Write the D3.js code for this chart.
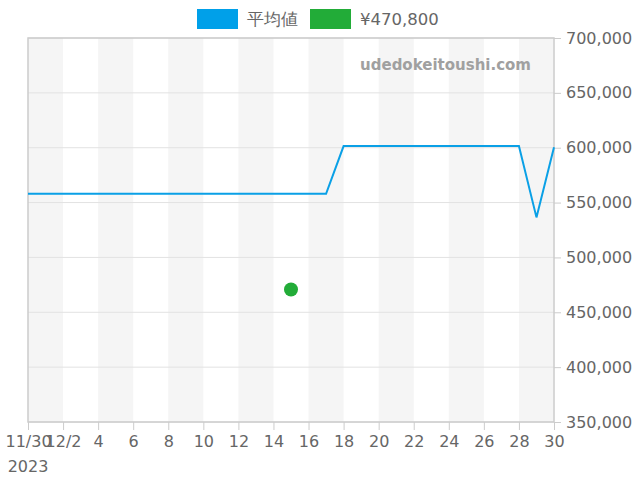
<!DOCTYPE html>
<html><head><meta charset="utf-8">
<script src="https://cdn.jsdelivr.net/npm/d3@7"></script>
<style>body{margin:0;background:#fff}svg{display:block}text{font-family:"DejaVu Sans",sans-serif}</style>
</head><body><svg id="c" width="640" height="480"></svg>
<script>
const dates = ["2023-11-30","2023-12-01","2023-12-02","2023-12-03","2023-12-04","2023-12-05","2023-12-06","2023-12-07","2023-12-08","2023-12-09","2023-12-10","2023-12-11","2023-12-12","2023-12-13","2023-12-14","2023-12-15","2023-12-16","2023-12-17","2023-12-18","2023-12-19","2023-12-20","2023-12-21","2023-12-22","2023-12-23","2023-12-24","2023-12-25","2023-12-26","2023-12-27","2023-12-28","2023-12-29","2023-12-30"];
const avgValues = [558000,558000,558000,558000,558000,558000,558000,558000,558000,558000,558000,558000,558000,558000,558000,558000,558000,558000,601500,601500,601500,601500,601500,601500,601500,601500,601500,601500,601500,536500,600500];
const pointDate = "2023-12-15";
const pointValue = 470800;
const yTicks = [350000,400000,450000,500000,550000,600000,650000,700000];
const xTickLabels = ["11/30","12/2","4","6","8","10","12","14","16","18","20","22","24","26","28","30"];
const legendLabels = ["平均値","¥470,800"];

const parse = d3.timeParse("%Y-%m-%d");
const svg = d3.select("#c");
const L=28,R=554,T=38,B=422;
const x = d3.scaleTime().domain([parse(dates[0]), parse(dates[dates.length-1])]).range([L,R]);
const y = d3.scaleLinear().domain([350000,700000]).range([B,T]);

// bands
const bandStarts = dates.filter((d,i)=>i%4===0 && i<dates.length-1);
svg.selectAll("rect.band").data(bandStarts).enter().append("rect")
  .attr("x",d=>x(parse(d))).attr("y",T)
  .attr("width",d=>x(d3.timeDay.offset(parse(d),2))-x(parse(d)))
  .attr("height",B-T).attr("fill","#f5f5f5");

// grid
svg.selectAll("line.grid").data(yTicks).enter().append("line")
  .attr("x1",L).attr("x2",R).attr("y1",d=>y(d)).attr("y2",d=>y(d))
  .attr("stroke","#e2e2e2").attr("stroke-width",1);

// watermark
svg.append("text").attr("x",531).attr("y",70).attr("text-anchor","end")
  .attr("font-size",15).attr("font-weight","bold").attr("fill","#a0a0a0").text("udedokeitoushi.com");

// border
svg.append("rect").attr("x",L).attr("y",T).attr("width",R-L).attr("height",B-T)
  .attr("fill","none").attr("stroke","#cccccc").attr("stroke-width",1.5);

// y axis
const yAxis = d3.axisRight(y).tickValues(yTicks).tickSize(7).tickPadding(5).tickFormat(d3.format(","));
const ya = svg.append("g").attr("transform",`translate(${R},0)`).call(yAxis);
ya.select(".domain").remove();
ya.selectAll("line").attr("stroke","#cccccc");
ya.selectAll("text").attr("font-size",16).attr("fill","#666").attr("font-family","DejaVu Sans");

// x axis
const xTickDates = dates.filter((d,i)=>i%2===0);
const xAxis = d3.axisBottom(x).tickValues(xTickDates.map(parse)).tickSize(8).tickPadding(6)
  .tickFormat((d,i)=>xTickLabels[i]);
const xa = svg.append("g").attr("transform",`translate(0,${B})`).call(xAxis);
xa.select(".domain").remove();
xa.selectAll("line").attr("stroke","#cccccc");
xa.selectAll("text").attr("font-size",16).attr("fill","#666").attr("font-family","DejaVu Sans");
xa.append("text").attr("x",x(parse(dates[0]))).attr("y",50).attr("text-anchor","middle")
  .attr("font-size",16).attr("fill","#666").text("2023");

// line
const line = d3.line().x((d,i)=>x(parse(dates[i]))).y(d=>y(d));
svg.append("path").datum(avgValues).attr("d",line).attr("fill","none")
  .attr("stroke","#0aa0e6").attr("stroke-width",2);

// point
svg.append("circle").attr("cx",x(parse(pointDate))).attr("cy",y(pointValue)).attr("r",7)
  .attr("fill","#22ac38");

// legend
const lg = svg.append("g");
lg.append("rect").attr("x",197).attr("y",9).attr("width",41).attr("height",20).attr("fill","#00a0e9");
lg.append("text").attr("x",247).attr("y",25).attr("font-size",16.5).attr("fill","#666")
  .attr("font-family","'Noto Sans CJK JP','DejaVu Sans',sans-serif").text(legendLabels[0]);
lg.append("rect").attr("x",310).attr("y",9).attr("width",41).attr("height",20).attr("fill","#22ac38");
lg.append("text").attr("x",360).attr("y",25).attr("font-size",16.5).attr("fill","#666").text(legendLabels[1]);
</script></body></html>
